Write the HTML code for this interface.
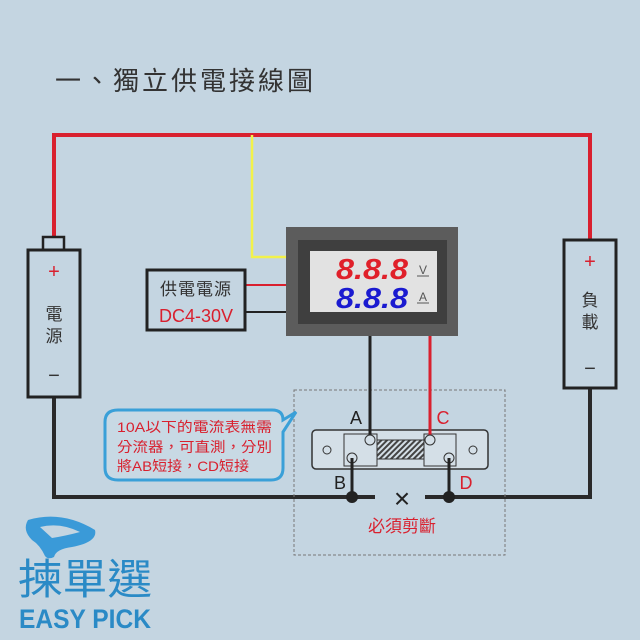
<!DOCTYPE html>
<html><head><meta charset="utf-8"><style>
body{margin:0;width:640px;height:640px;background:#c4d5e1;overflow:hidden}
svg{display:block}
text{font-family:"Liberation Sans","Noto Sans CJK TC",sans-serif}
</style></head><body>
<svg width="640" height="640" viewBox="0 0 640 640">
<rect width="640" height="640" fill="#c4d5e1"/>
<text x="55" y="90" font-size="26" fill="#333" letter-spacing="3">一、獨立供電接線圖</text>
<polyline points="54,237 54,135 590,135 590,240" fill="none" stroke="#d9202e" stroke-width="4"/>
<polyline points="252,135 252,257 288,257" fill="none" stroke="#f2f24a" stroke-width="2.5"/>
<line x1="245" y1="285" x2="288" y2="285" stroke="#d9202e" stroke-width="2"/>
<line x1="245" y1="312" x2="288" y2="312" stroke="#222" stroke-width="2"/>
<polyline points="54,397 54,497 352,497 375,497" fill="none" stroke="#2a2a2a" stroke-width="4"/>
<polyline points="590,388 590,497 425,497" fill="none" stroke="#2a2a2a" stroke-width="4"/>
<rect x="43" y="237" width="21" height="13" fill="#c4d5e1" stroke="#222" stroke-width="2.5"/>
<rect x="28" y="250" width="52" height="147" fill="#c4d5e1" stroke="#222" stroke-width="3"/>
<text x="54" y="278" font-size="20" fill="#d9202e" text-anchor="middle">+</text>
<text x="54" y="320" font-size="17" fill="#333" text-anchor="middle">電</text>
<text x="54" y="342" font-size="17" fill="#333" text-anchor="middle">源</text>
<text x="54" y="382" font-size="20" fill="#333" text-anchor="middle">−</text>
<rect x="564" y="240" width="52" height="148" fill="#c4d5e1" stroke="#222" stroke-width="3"/>
<text x="590" y="268" font-size="20" fill="#d9202e" text-anchor="middle">+</text>
<text x="590" y="306" font-size="17" fill="#333" text-anchor="middle">負</text>
<text x="590" y="328" font-size="17" fill="#333" text-anchor="middle">載</text>
<text x="590" y="375" font-size="20" fill="#333" text-anchor="middle">−</text>
<rect x="147" y="270" width="98" height="60" fill="#c4d5e1" stroke="#222" stroke-width="3"/>
<text x="196" y="295" font-size="17" fill="#333" text-anchor="middle" letter-spacing="1">供電電源</text>
<text x="196" y="322" font-size="18" fill="#d9202e" text-anchor="middle">DC4-30V</text>
<rect x="286" y="227" width="172" height="109" fill="#5c5c5c"/>
<rect x="298" y="240" width="149" height="84" fill="#3f3f3f"/>
<rect x="310" y="251" width="127" height="61" fill="#e2e2e2"/>
<text x="372" y="279" font-size="29" font-style="italic" font-weight="bold" fill="#e0202a" text-anchor="middle" font-family="Liberation Mono" textLength="72" lengthAdjust="spacingAndGlyphs">8.8.8</text>
<text x="372" y="308" font-size="29" font-style="italic" font-weight="bold" fill="#1a1ad0" text-anchor="middle" font-family="Liberation Mono" textLength="72" lengthAdjust="spacingAndGlyphs">8.8.8</text>
<text x="423" y="274" font-size="12" fill="#555" text-anchor="middle">V</text>
<line x1="417" y1="276" x2="429" y2="276" stroke="#555" stroke-width="1"/>
<text x="423" y="301" font-size="12" fill="#555" text-anchor="middle">A</text>
<line x1="417" y1="303" x2="429" y2="303" stroke="#555" stroke-width="1"/>
<rect x="294" y="390" width="211" height="165" fill="none" stroke="#777" stroke-width="1" stroke-dasharray="3,2"/>
<rect x="312" y="430" width="176" height="39" rx="4" fill="#d4dfe7" stroke="#333" stroke-width="1.5"/>
<rect x="344" y="434" width="33" height="32" fill="#d4dfe7" stroke="#333" stroke-width="1"/>
<rect x="424" y="434" width="32" height="32" fill="#d4dfe7" stroke="#333" stroke-width="1"/>
<defs><pattern id="h" width="4" height="4" patternUnits="userSpaceOnUse" patternTransform="rotate(45)"><rect width="2" height="4" fill="#444"/></pattern></defs>
<rect x="377" y="440" width="47" height="19" fill="url(#h)" stroke="#333" stroke-width="1"/>
<circle cx="327" cy="450" r="4" fill="none" stroke="#333"/>
<circle cx="473" cy="450" r="4" fill="none" stroke="#333"/>
<line x1="370" y1="336" x2="370" y2="440" stroke="#222" stroke-width="3"/>
<line x1="430" y1="336" x2="430" y2="440" stroke="#d9202e" stroke-width="3"/>
<circle cx="370" cy="440" r="5" fill="#d4dfe7" stroke="#333"/>
<circle cx="430" cy="440" r="5" fill="#d4dfe7" stroke="#333"/>
<circle cx="352" cy="458" r="5" fill="#d4dfe7" stroke="#333"/>
<circle cx="449" cy="458" r="5" fill="#d4dfe7" stroke="#333"/>
<line x1="352" y1="458" x2="352" y2="497" stroke="#222" stroke-width="3"/>
<line x1="449" y1="458" x2="449" y2="497" stroke="#222" stroke-width="3"/>
<circle cx="352" cy="497" r="6" fill="#222"/>
<circle cx="449" cy="497" r="6" fill="#222"/>
<text x="356" y="424" font-size="18" fill="#222" text-anchor="middle">A</text>
<text x="443" y="424" font-size="18" fill="#d9202e" text-anchor="middle">C</text>
<text x="340" y="489" font-size="18" fill="#222" text-anchor="middle">B</text>
<text x="466" y="489" font-size="18" fill="#d9202e" text-anchor="middle">D</text>
<text x="402" y="508" font-size="28" fill="#222" text-anchor="middle">×</text>
<text x="402" y="532" font-size="17" fill="#d9202e" text-anchor="middle">必須剪斷</text>
<path d="M118,410 H272 Q283,410 283,420 L296,412 L283,432 V468 Q283,480 271,480 H118 Q105,480 105,468 V422 Q105,410 118,410 Z" fill="#c8d9e4" stroke="#3aa0d8" stroke-width="3"/>
<text x="117" y="432" font-size="14" fill="#d9202e" textLength="155" lengthAdjust="spacingAndGlyphs">10A以下的電流表無需</text>
<text x="117" y="452" font-size="14" fill="#d9202e" textLength="155" lengthAdjust="spacingAndGlyphs">分流器，可直測，分別</text>
<text x="117" y="471" font-size="14" fill="#d9202e" textLength="132" lengthAdjust="spacingAndGlyphs">將AB短接，CD短接</text>
<path d="M28,520 Q62,510 95,530 Q98,542 72,547 Q56,549 54,557 Q48,560 45,556 Q40,545 32,540 Q22,530 28,520 Z M40,527 Q60,522 80,532 Q65,536 52,538 Z" fill="#3a9ad8" fill-rule="evenodd"/>
<text x="18" y="594" font-size="42" fill="#2a8ac6" textLength="134" lengthAdjust="spacingAndGlyphs">揀單選</text>
<text x="19" y="628" font-size="27" fill="#2a8ac6" font-weight="bold" textLength="132" lengthAdjust="spacingAndGlyphs">EASY PICK</text>
</svg>
</body></html>
